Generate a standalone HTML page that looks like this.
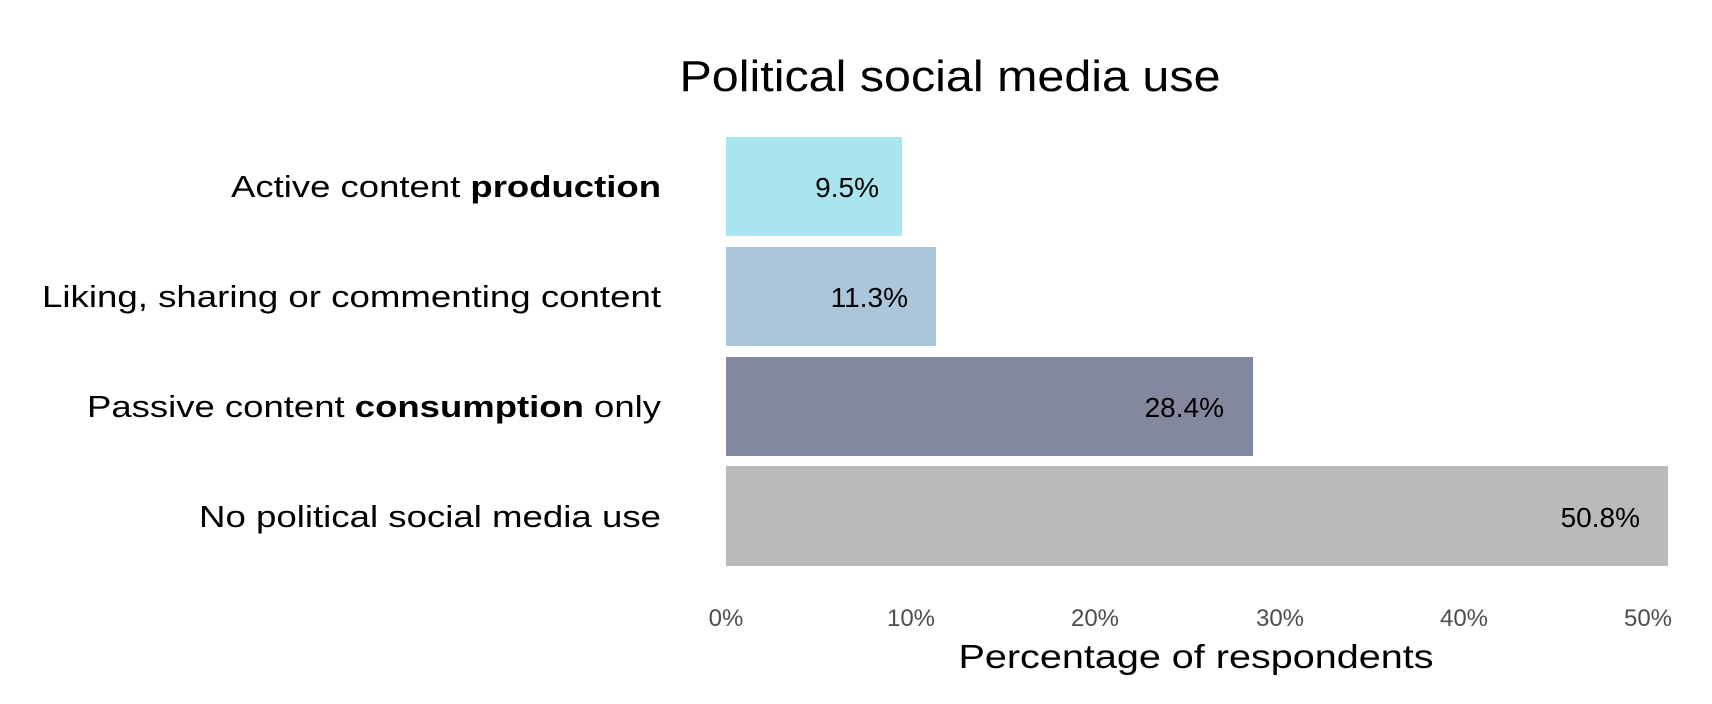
<!DOCTYPE html>
<html><head><meta charset="utf-8"><style>
html,body{margin:0;padding:0;background:#fff;}
svg{display:block;font-family:"Liberation Sans",Arial,sans-serif;}
</style></head><body>
<svg width="1712" height="704" viewBox="0 0 1712 704">
<text x="950" y="91" font-size="44" text-anchor="middle" fill="#000" textLength="541" lengthAdjust="spacingAndGlyphs">Political social media use</text>
<g font-size="31" fill="#000" text-anchor="end">
<text x="661" y="197" textLength="430" lengthAdjust="spacingAndGlyphs">Active content <tspan font-weight="bold">production</tspan></text>
<text x="661" y="307" textLength="619" lengthAdjust="spacingAndGlyphs">Liking, sharing or commenting content</text>
<text x="661" y="417" textLength="574" lengthAdjust="spacingAndGlyphs">Passive content <tspan font-weight="bold">consumption</tspan> only</text>
<text x="661" y="527" textLength="462" lengthAdjust="spacingAndGlyphs">No political social media use</text>
</g>
<rect x="726" y="137" width="176" height="99" fill="#a9e5ef"/>
<rect x="726" y="247" width="210" height="99" fill="#abc5db"/>
<rect x="726" y="357" width="527" height="99" fill="#84889f"/>
<rect x="726" y="466" width="942" height="100" fill="#bababa"/>
<g font-size="28" fill="#000" text-anchor="end">
<text x="879" y="197">9.5%</text>
<text x="908" y="307">11.3%</text>
<text x="1224" y="417">28.4%</text>
<text x="1640" y="527">50.8%</text>
</g>
<g font-size="24" fill="#4d4d4d" text-anchor="middle">
<text x="726" y="626">0%</text>
<text x="911" y="626">10%</text>
<text x="1095" y="626">20%</text>
<text x="1280" y="626">30%</text>
<text x="1464" y="626">40%</text>
<text x="1648" y="626">50%</text>
</g>
<text x="1196" y="668" font-size="33" text-anchor="middle" fill="#000" textLength="475" lengthAdjust="spacingAndGlyphs">Percentage of respondents</text>
</svg>
</body></html>
